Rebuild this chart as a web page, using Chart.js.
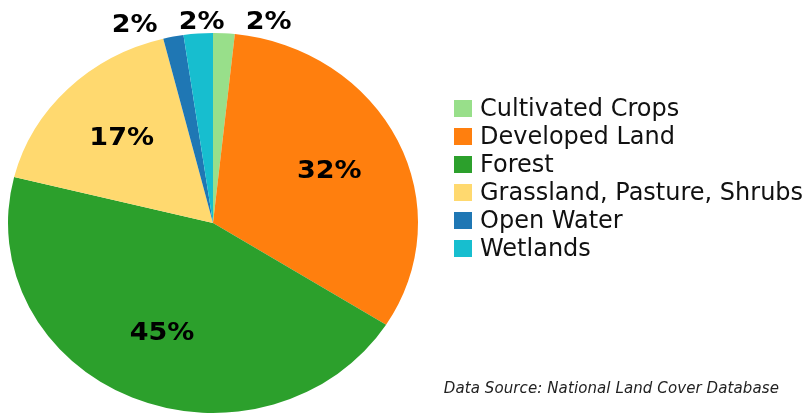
<!DOCTYPE html>
<html>
<head>
<meta charset="utf-8">
<script src="https://cdn.jsdelivr.net/npm/chart.js@4/dist/chart.umd.min.js"></script>
<style>
  html, body { margin: 0; padding: 0; background: #fff; }
  #wrap { position: relative; width: 808px; height: 415px; overflow: hidden; }
  #c { position: absolute; left: 0; top: 0; }
  #legend { position: absolute; left: 454px; top: 94px; font-family: "DejaVu Sans", Verdana, sans-serif; font-size: 24px; color: #111; }
  .item { height: 28px; display: flex; align-items: center; white-space: nowrap; }
  .box { width: 18px; height: 17px; margin-right: 8px; flex: none; }
  #note { position: absolute; right: 29px; top: 379px; font-family: "DejaVu Sans", Verdana, sans-serif; font-style: italic; font-size: 15px; letter-spacing: 0.1px; color: #222; white-space: nowrap; }
</style>
</head>
<body>
<div id="wrap">
  <canvas id="c" width="808" height="415"></canvas>
  <div id="legend"></div>
  <div id="note">Data Source: National Land Cover Database</div>
</div>
<script>
const categories = ["Cultivated Crops", "Developed Land", "Forest", "Grassland, Pasture, Shrubs", "Open Water", "Wetlands"];
const shares = [1.7, 32.3, 44.9, 17.2, 1.6, 2.3];
const colors = ["#98df8a", "#ff7f0e", "#2ca02c", "#ffd96f", "#1f77b4", "#17becf"];

const legend = document.getElementById('legend');
categories.forEach((name, i) => {
  const row = document.createElement('div');
  row.className = 'item';
  const b = document.createElement('span');
  b.className = 'box';
  b.style.background = colors[i];
  const t = document.createElement('span');
  t.textContent = name;
  row.appendChild(b); row.appendChild(t);
  legend.appendChild(row);
});

const SX = 205 / 190; // horizontal stretch of the pie

function drawLabel(ctx, text, x, y) {
  ctx.save();
  ctx.translate(x, y);
  ctx.scale(1.08, 1);
  ctx.fillText(text, 0, 0);
  ctx.restore();
}

const stretchAndLabel = {
  id: 'stretchAndLabel',
  beforeDatasetsDraw(chart) {
    const arc = chart.getDatasetMeta(0).data[0];
    const ctx = chart.ctx;
    ctx.save();
    ctx.translate(arc.x, arc.y);
    ctx.scale(SX, 1);
    ctx.translate(-arc.x, -arc.y);
  },
  afterDatasetsDraw(chart) {
    const ctx = chart.ctx;
    ctx.restore();
    const arcs = chart.getDatasetMeta(0).data;
    const total = shares.reduce((a, b) => a + b, 0);
    const small = [];
    ctx.save();
    ctx.font = 'bold 25px "DejaVu Sans", Verdana, sans-serif';
    ctx.fillStyle = '#000';
    ctx.textAlign = 'center';
    ctx.textBaseline = 'middle';
    arcs.forEach((a, i) => {
      const pct = shares[i] / total * 100;
      const mid = (a.startAngle + a.endAngle) / 2;
      const label = Math.round(pct) + '%';
      if (pct < 5) {
        const r = a.outerRadius + 12;
        small.push({ x: a.x + Math.cos(mid) * r * SX, y: a.y + Math.sin(mid) * r, label, mid });
      } else {
        const r = a.outerRadius * 0.63;
        drawLabel(ctx, label, a.x + Math.cos(mid) * r * SX, a.y + Math.sin(mid) * r);
      }
    });
    // spread outside labels so they don't overlap
    small.sort((p, q) => p.x - q.x);
    const gap = 67;
    const meanX = small.reduce((s, p) => s + p.x, 0) / small.length;
    small.forEach((p, k) => {
      const x = meanX + (k - (small.length - 1) / 2) * gap + 4;
      drawLabel(ctx, p.label, x, p.y + 1);
    });
    ctx.restore();
  }
};

new Chart(document.getElementById('c'), {
  type: 'pie',
  data: {
    labels: categories,
    datasets: [{ data: shares, backgroundColor: colors, borderWidth: 0 }]
  },
  options: {
    responsive: false,
    animation: false,
    layout: { padding: { left: 23, top: 33, right: 405, bottom: 2 } },
    plugins: { legend: { display: false }, tooltip: { enabled: false } }
  },
  plugins: [stretchAndLabel]
});
</script>
</body>
</html>
